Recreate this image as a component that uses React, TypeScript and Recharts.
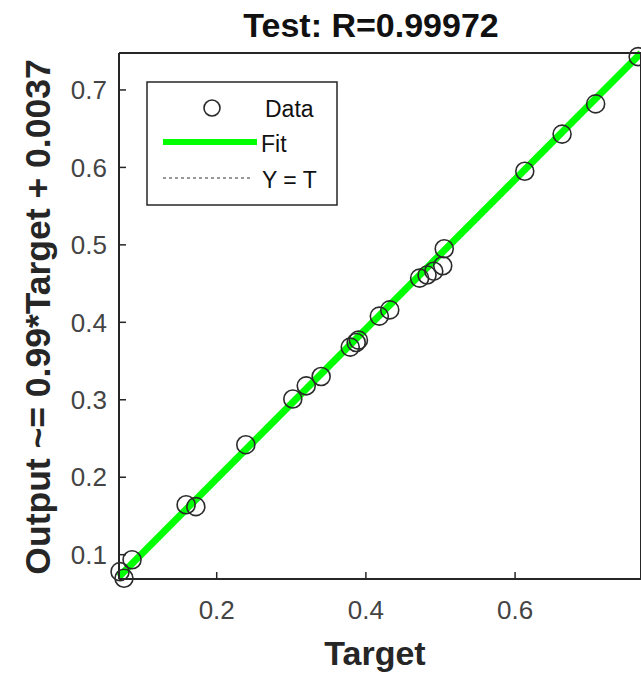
import { ComposedChart, Line, Scatter, XAxis, YAxis } from "recharts";

// values
const targets = [
  0.0704, 0.0757, 0.0865, 0.159, 0.172, 0.239, 0.302, 0.32, 0.34, 0.379, 0.387,
  0.39, 0.418, 0.432, 0.472, 0.482, 0.491, 0.503, 0.505, 0.613, 0.663, 0.708, 0.765,
];
const outputs = [
  0.0781, 0.0695, 0.0935, 0.1645, 0.162, 0.242, 0.301, 0.318, 0.33, 0.368, 0.374,
  0.377, 0.408, 0.416, 0.457, 0.461, 0.466, 0.473, 0.495, 0.595, 0.643, 0.682, 0.743,
];

const fitTarget = [0.069, 0.7688];
const fitOutput = [0.0716, 0.7477];
const identityTarget = [0.069, 0.7688];
const identityOutput = [0.069, 0.7477];

const xTicks = [0.2, 0.4, 0.6];
const yTicks = [0.1, 0.2, 0.3, 0.4, 0.5, 0.6, 0.7];
const xDomain = [0.069, 0.7688];
const yDomain = [0.0686, 0.7477];

const title = "Test: R=0.99972";
const xLabel = "Target";
const yLabel = "Output ~= 0.99*Target + 0.0037";

const points = targets.map((t, i) => ({ x: t, y: outputs[i] }));
const fitData = fitTarget.map((t, i) => ({ x: t, y: fitOutput[i] }));
const identityData = identityTarget.map((t, i) => ({ x: t, y: identityOutput[i] }));

const AXIS = "#262626";
const FONT = "'Liberation Sans', Arial, sans-serif";
const TICK_LEN = 7;
const X_GAP = 22;
const Y_GAP = 12;

const ring = (p: any) => (
  <circle cx={p.cx} cy={p.cy} r={9} fill="none" stroke="#2b2b2b" strokeWidth={1.6} />
);

// MATLAB style: tick marks point into the box
const BottomTick = (p: any) => {
  const base = p.y - X_GAP;
  return (
    <g>
      <line x1={p.x} y1={base} x2={p.x} y2={base - TICK_LEN} stroke={AXIS} strokeWidth={1.5} />
      <text x={p.x} y={p.y} dy="0.71em" textAnchor="middle" fontSize={26} fill="#444" fontFamily={FONT}>
        {p.payload.value}
      </text>
    </g>
  );
};
const LeftTick = (p: any) => {
  const base = p.x + Y_GAP;
  return (
    <g>
      <line x1={base} y1={p.y} x2={base + TICK_LEN} y2={p.y} stroke={AXIS} strokeWidth={1.5} />
      <text x={p.x} y={p.y} dy="0.355em" textAnchor="end" fontSize={26} fill="#444" fontFamily={FONT}>
        {p.payload.value}
      </text>
    </g>
  );
};
const TopTick = (p: any) => (
  <line x1={p.x} y1={p.y} x2={p.x} y2={p.y + TICK_LEN} stroke={AXIS} strokeWidth={1.5} />
);
const RightTick = (p: any) => (
  <line x1={p.x} y1={p.y} x2={p.x - TICK_LEN} y2={p.y} stroke={AXIS} strokeWidth={1.5} />
);

export default function App() {
  return (
    <div style={{ position: "relative", width: 641, height: 679, background: "#fff" }}>
      <style>{`body{margin:0}`}</style>
      <ComposedChart
        width={641}
        height={679}
        margin={{ top: 53, right: 0, bottom: 0, left: 0 }}
        style={{ fontFamily: FONT }}
      >
        <XAxis
          dataKey="x"
          type="number"
          domain={xDomain}
          ticks={xTicks}
          height={100}
          tickLine={false}
          tickSize={0}
          tickMargin={X_GAP}
          axisLine={{ stroke: AXIS, strokeWidth: 2 }}
          tick={BottomTick}
          label={() => (
            <text x={375} y={665} textAnchor="middle" fontSize={34} fontWeight="bold" fill="#262626" fontFamily={FONT}>
              {xLabel}
            </text>
          )}
        />
        <XAxis
          xAxisId="top"
          orientation="top"
          mirror
          type="number"
          domain={xDomain}
          ticks={xTicks}
          height={30}
          tick={TopTick}
          tickSize={0}
          tickMargin={0}
          tickLine={false}
          axisLine={{ stroke: AXIS, strokeWidth: 2 }}
        />
        <YAxis
          dataKey="y"
          type="number"
          domain={yDomain}
          ticks={yTicks}
          width={119}
          tickLine={false}
          tickSize={0}
          tickMargin={Y_GAP}
          axisLine={{ stroke: AXIS, strokeWidth: 2 }}
          tick={LeftTick}
          label={() => (
            <text
              x={0}
              y={0}
              transform="translate(50 317) rotate(-90)"
              textAnchor="middle"
              fontSize={35.5}
              fontWeight="bold"
              fill="#262626"
              fontFamily={FONT}
            >
              {yLabel}
            </text>
          )}
        />
        <YAxis
          yAxisId="right"
          orientation="right"
          mirror
          type="number"
          domain={yDomain}
          ticks={yTicks}
          width={30}
          tick={RightTick}
          tickSize={0}
          tickMargin={0}
          tickLine={false}
          axisLine={{ stroke: AXIS, strokeWidth: 2 }}
        />
        <Line
          data={identityData}
          dataKey="y"
          stroke="#333"
          strokeWidth={1}
          strokeDasharray="3 3"
          dot={false}
          activeDot={false}
          isAnimationActive={false}
        />
        <Line
          data={fitData}
          dataKey="y"
          stroke="#00ff00"
          strokeWidth={7}
          dot={false}
          activeDot={false}
          isAnimationActive={false}
        />
        <Scatter data={points} dataKey="y" shape={ring} isAnimationActive={false} />
      </ComposedChart>
      <svg
        width={641}
        height={679}
        style={{ position: "absolute", left: 0, top: 0, pointerEvents: "none", fontFamily: FONT }}
      >
        <text x={371} y={37} textAnchor="middle" fontSize={34} fontWeight="bold" fill="#111">
          {title}
        </text>
        <rect x={147} y={82} width={190} height={123} fill="#fff" stroke={AXIS} strokeWidth={1.5} />
        <circle cx={212} cy={108} r={8} fill="none" stroke="#2b2b2b" strokeWidth={1.6} />
        <text x={265} y={117} fontSize={23} fill="#111">Data</text>
        <line x1={163} y1={142} x2={257} y2={142} stroke="#00ff00" strokeWidth={6} />
        <text x={261} y={152} fontSize={23} fill="#111">Fit</text>
        <line x1={163} y1={178} x2={252} y2={178} stroke="#333" strokeWidth={1} strokeDasharray="3 3" />
        <text x={262} y={188} fontSize={23} fill="#111">Y = T</text>
      </svg>
    </div>
  );
}
